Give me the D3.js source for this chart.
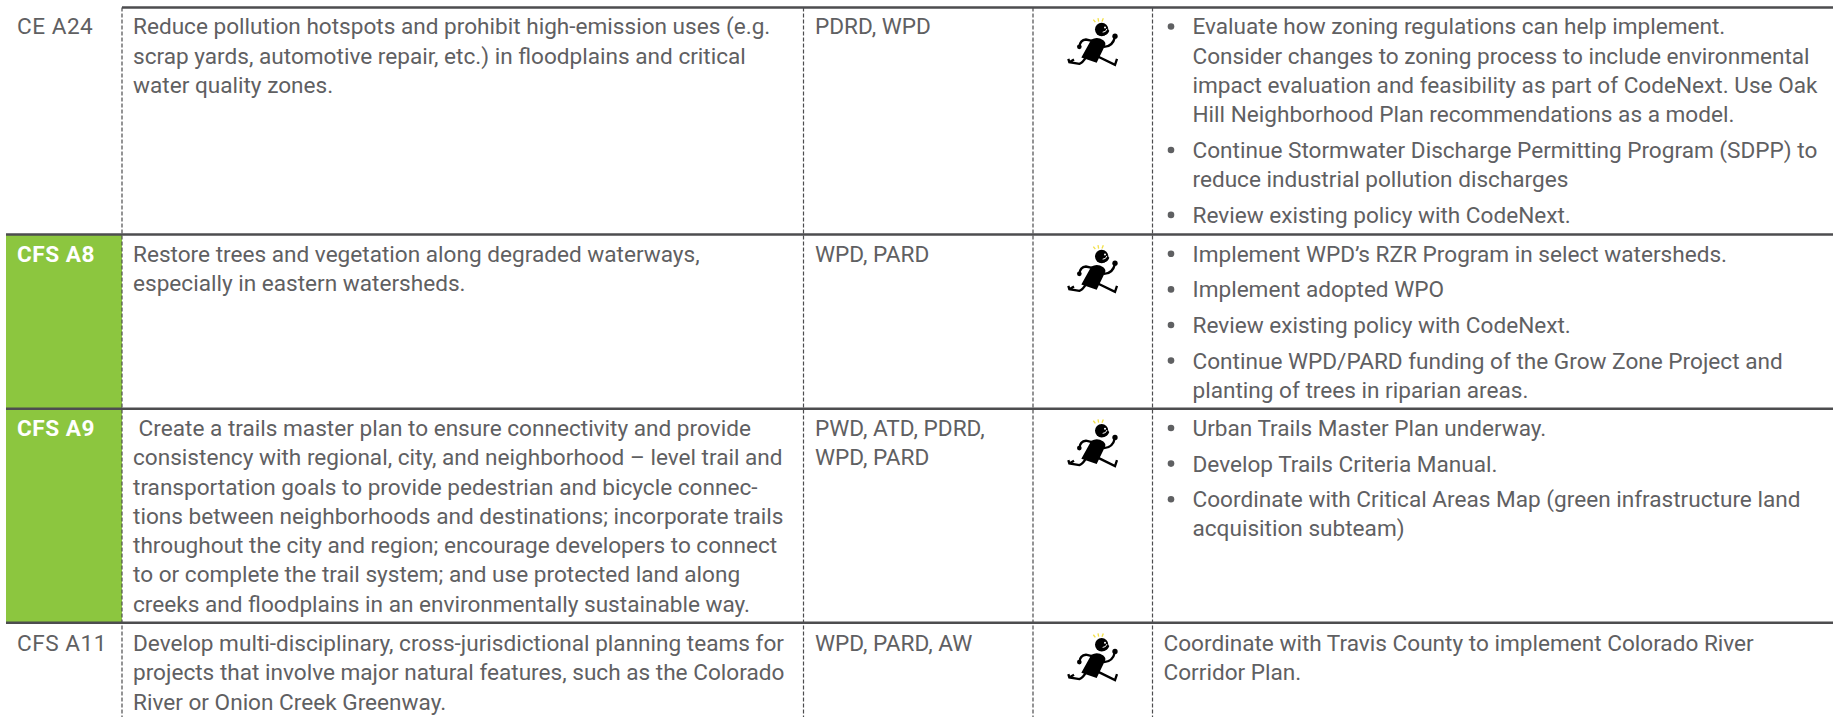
<!DOCTYPE html>
<html>
<head>
<meta charset="utf-8">
<script src="https://cdn.jsdelivr.net/npm/d3@7"></script>
<style>
html, body { margin: 0; padding: 0; background: #fff; }
text { font-family: "Roboto", sans-serif; font-size: 22.6px; fill: #5f6062; }
</style>
</head>
<body>
<svg id="chart" width="1834" height="717" style="display:block"></svg>
<script>
// table content, one small list per column
var codes = ["CE A24", "CFS A8", "CFS A9", "CFS A11"];
var highlighted = [false, true, true, false];
var descriptions = [
	["Reduce pollution hotspots and prohibit high-emission uses (e.g.",
	 "scrap yards, automotive repair, etc.) in floodplains and critical",
	 "water quality zones."],
	["Restore trees and vegetation along degraded waterways,",
	 "especially in eastern watersheds."],
	[" Create a trails master plan to ensure connectivity and provide",
	 "consistency with regional, city, and neighborhood \u2013 level trail and",
	 "transportation goals to provide pedestrian and bicycle connec-",
	 "tions between neighborhoods and destinations; incorporate trails",
	 "throughout the city and region; encourage developers to connect",
	 "to or complete the trail system; and use protected land along",
	 "creeks and floodplains in an environmentally sustainable way."],
	["Develop multi-disciplinary, cross-jurisdictional planning teams for",
	 "projects that involve major natural features, such as the Colorado",
	 "River or Onion Creek Greenway."]
];
var partners = [
	["PDRD, WPD"],
	["WPD, PARD"],
	["PWD, ATD, PDRD,", "WPD, PARD"],
	["WPD, PARD, AW"]
];
var actions = [
	[["Evaluate how zoning regulations can help implement.",
	  "Consider changes to zoning process to include environmental",
	  "impact evaluation and feasibility as part of CodeNext. Use Oak",
	  "Hill Neighborhood Plan recommendations as a model."],
	 ["Continue Stormwater Discharge Permitting Program (SDPP) to",
	  "reduce industrial pollution discharges"],
	 ["Review existing policy with CodeNext."]],
	[["Implement WPD\u2019s RZR Program in select watersheds."],
	 ["Implement adopted WPO"],
	 ["Review existing policy with CodeNext."],
	 ["Continue WPD/PARD funding of the Grow Zone Project and",
	  "planting of trees in riparian areas."]],
	[["Urban Trails Master Plan underway."],
	 ["Develop Trails Criteria Manual."],
	 ["Coordinate with Critical Areas Map (green infrastructure land",
	  "acquisition subteam)"]],
	[["Coordinate with Travis County to implement Colorado River",
	  "Corridor Plan."]]
];
var bulleted = [true, true, true, false];

// layout
var width = 1834, height = 717;
var rowEdges = [7.5, 234.5, 408.7, 622.7, 717];
var colEdges = [6, 122, 803.5, 1033, 1152.5, 1834];
var rowFirstLine = [19, 19.3, 19.3, 20.3];
var linePitch = 29.3, bulletGap = 6.3;
var textColor = "#5f6062", ruleColor = "#4d4d4f", green = "#8cc63f";

var svg = d3.select("#chart");

// scales over row / column number, so everything hangs off the edges above
var rowY = d3.scaleLinear().domain(d3.range(rowEdges.length)).range(rowEdges);
var colX = d3.scaleLinear().domain(d3.range(colEdges.length)).range(colEdges);

// green code cells
svg.selectAll("rect.code")
	.data(codes.map(function(d, i) { return i; }).filter(function(i) { return highlighted[i]; }))
	.enter()
	.append("rect")
	.attr("class", "code")
	.attr("x", colX(0))
	.attr("y", function(i) { return rowY(i); })
	.attr("width", colX(1) - colX(0))
	.attr("height", function(i) { return rowY(i + 1) - rowY(i); })
	.style("fill", green);

// dashed column lines
svg.selectAll("line.col")
	.data([1, 2, 3, 4])
	.enter()
	.append("line")
	.attr("class", "col")
	.attr("x1", function(d) { return colX(d); })
	.attr("x2", function(d) { return colX(d); })
	.attr("y1", rowY(0))
	.attr("y2", height)
	.style("stroke", ruleColor)
	.style("stroke-width", 1.2)
	.style("stroke-dasharray", "4,2");

// horizontal rules, the top one starts at the first column line
svg.selectAll("line.rule")
	.data([0, 1, 2, 3])
	.enter()
	.append("line")
	.attr("class", "rule")
	.attr("x1", function(d) { return d === 0 ? colX(1) : colX(0); })
	.attr("x2", width - 1)
	.attr("y1", function(d) { return rowY(d); })
	.attr("y2", function(d) { return rowY(d); })
	.style("stroke", ruleColor)
	.style("stroke-width", 2.5);

var rows = svg.selectAll("g.row")
	.data(codes)
	.enter()
	.append("g")
	.attr("class", "row");

function addLines(sel, lines, x, y0) {
	sel.selectAll(null)
		.data(lines)
		.enter()
		.append("text")
		.attr("x", x)
		.attr("y", function(d, i) { return y0 + i * linePitch; })
		.attr("dy", "0.35em")
		.attr("xml:space", "preserve")
		.text(function(d) { return d; });
}

rows.each(function(code, i) {
	var g = d3.select(this);
	var top = rowY(i);
	var first = top + rowFirstLine[i];

	g.append("text")
		.attr("x", colX(0) + 11)
		.attr("y", first)
		.attr("dy", "0.35em")
		.style("font-weight", highlighted[i] ? 700 : 400)
		.style("letter-spacing", "0.5px")
		.style("fill", highlighted[i] ? "#fff" : textColor)
		.text(code);

	addLines(g, descriptions[i], colX(1) + 11, first);
	addLines(g, partners[i], colX(2) + 11.5, first);

	// running figure in the status column
	drawRunner(g, colX(3) + 27, top + 4.7);

	if (bulleted[i]) {
		var y = first;
		actions[i].forEach(function(item) {
			g.append("circle")
				.attr("cx", colX(4) + 18.5)
				.attr("cy", y)
				.attr("r", 3.3)
				.style("fill", textColor);
			addLines(g, item, colX(4) + 40, y);
			y += item.length * linePitch + bulletGap;
		});
	} else {
		addLines(g, actions[i][0], colX(4) + 11, first);
	}
});

// little clipart man, path units are thirds of a pixel
function drawRunner(g, x, y) {
	var m = g.append("g").attr("transform", "translate(" + x + "," + y + ") scale(0.3333)");
	m.append("path")
		.attr("d", "M78,135 Q68,152 58,155 L28,150 L25,140 M28,150 L42,142 M112,132 L165,158 L171,140 M96,86 L78,82 Q60,84 58,104 M132,104 Q158,104 165,74")
		.style("fill", "none")
		.style("stroke", "#000")
		.style("stroke-width", 7);
	m.append("path")
		.attr("d", "M94,82 Q112,72 130,84 Q140,92 134,102 L110,152 L64,136 Z")
		.style("fill", "#000");
	m.append("circle").attr("cx", 125).attr("cy", 52).attr("r", 20).style("fill", "#000");
	m.append("path").attr("d", "M130,64 Q140,62 144,52 L148,56 Q144,68 132,70 Z").style("fill", "#000");
	m.append("circle").attr("cx", 58).attr("cy", 104).attr("r", 7).style("fill", "#000");
	m.append("circle").attr("cx", 165).attr("cy", 72).attr("r", 8).style("fill", "#000");
	// face
	m.append("path")
		.attr("d", "M128,60 Q138,60 141,50")
		.style("fill", "none")
		.style("stroke", "#fff")
		.style("stroke-width", 3);
	m.append("circle").attr("cx", 135).attr("cy", 46).attr("r", 3).style("fill", "#fff");
	m.append("path")
		.attr("d", "M100,22 L106,30 M114,18 L116,28 M130,18 L126,28")
		.style("fill", "none")
		.style("stroke", "#f2e04a")
		.style("stroke-width", 4);
}
</script>
</body>
</html>
